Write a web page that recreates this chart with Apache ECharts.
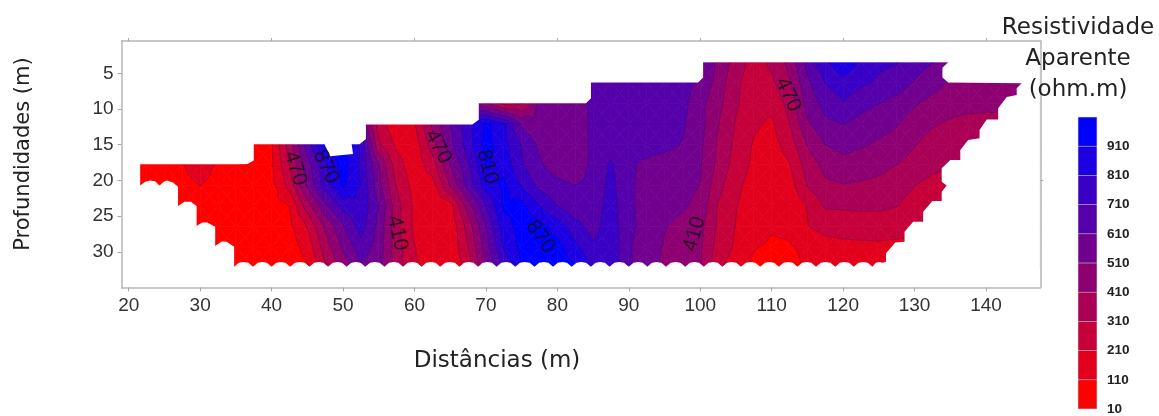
<!DOCTYPE html>
<html><head><meta charset="utf-8"><style>html,body{margin:0;background:#fff}#c{width:1159px;height:416px}</style>
<script src="https://cdn.jsdelivr.net/npm/echarts@6/dist/echarts.min.js"></script></head><body><div id="c"></div>
<script>
// ---------- data ----------
const xCols = [20,22.5,25,27.5,30,32.5,35,37.5, 40,42.5,45,47.5,50,52.5,55,57.5, 60,62.5,65,67.5,70,72.5,75,77.5, 80,82.5,85,87.5,90,92.5,95,97.5, 100,102.5,105,107.5,110,112.5,115,117.5, 120,122.5,125,127.5,130,132.5,135,137.5, 140,142.5,145,147.5];
const depths = [3.46,6.3,9.2,12.1,15,17.8,20.7,23.6,26.5,29.4,32.3];
const r03 = [640,640,640,640,640,640,640,640, 640,640,640,640,640,640,640,640, 640,640,640,640,640,640,640,640, 640,640,640,640,640,640,640,640, 620,490,370,260,330,440,640,790, 900,790,730,715,660,612,585,570, 560,560,560,560];
const r06 = [640,640,640,640,640,640,640,640, 640,640,640,640,640,640,640,640, 640,640,640,640,640,640,640,640, 640,640,640,650,650,655,655,650, 590,470,330,260,290,400,590,712, 770,730,695,670,600,550,500,480, 470,465,460,455];
const r09 = [500,500,500,500,500,500,500,500, 500,500,500,500,500,500,500,500, 500,500,500,600,420,280,300,530, 540,540,640,655,655,655,650,640, 540,440,325,240,235,345,545,650, 705,645,612,570,520,480,450,440, 430,420,415,410];
const r12 = [60,60,60,60,60,60,60,60, 100,360,660,900,900,600,260,130, 200,430,610,770,940,830,590,540, 530,530,640,645,650,655,650,625, 545,415,300,225,195,310,495,585, 612,575,545,515,460,420,395,380, 385,395,400,400];
const r15 = [60,60,60,60,60,60,60,60, 100,360,660,930,960,790,330,190, 150,360,580,760,950,850,700,590, 530,525,640,650,650,650,635,605, 530,395,285,200,170,255,415,510, 545,520,495,480,415,370,330,320, 330,340,350,350];
const r18 = [60,60,60,105,180,90,60,60, 95,310,570,790,960,790,510,250, 150,260,510,690,920,880,720,625, 560,530,640,725,625,590,570,555, 520,385,265,190,145,205,355,440, 470,465,445,410,365,335,315,300, 300,300,300,300];
const r21 = [60,60,75,70,112,70,60,60, 75,250,525,760,930,805,545,300, 170,170,420,650,860,930,800,680, 640,610,640,740,625,580,560,540, 508,345,230,175,130,165,315,390, 405,395,380,350,312,280,270,260, 260,260,260,260];
const r24 = [60,60,60,60,60,60,60,60, 65,110,360,585,750,790,610,350, 190,130,165,460,710,925,950,810, 710,640,650,760,625,580,545,525, 480,300,215,165,125,140,215,320, 322,325,325,312,270,240,230,230, 230,230,230,230];
const r27 = [60,60,60,60,60,60,60,60, 60,85,215,425,595,755,580,340, 190,135,130,350,610,870,950,950, 870,750,670,770,630,580,515,480, 440,290,205,155,120,130,205,245, 260,265,265,255,240,230,230,230, 230,230,230,230];
const r29 = [60,60,60,60,60,60,60,60, 60,60,145,360,525,670,560,355, 215,135,130,305,560,815,940,950, 950,840,730,780,620,565,500,465, 425,270,195,115,95,100,130,165, 175,180,185,180,175,175,175,175, 175,175,175,175];
const r32 = [60,60,60,60,60,60,60,60, 60,60,95,290,450,590,540,360, 225,130,125,250,510,725,920,950, 950,930,800,780,625,550,490,450, 415,230,160,85,70,75,125,150, 155,155,160,160,160,160,160,160, 160,160,160,160];
const grid = [r03,r06,r09,r12,r15,r18,r21,r24,r27,r29,r32];
const levels = [10,110,210,310,410,510,610,710,810,910,1010];
const bandColors = ['#ff0000','#e3001c','#c60039','#aa0055','#8e0071','#71008e','#5500aa','#3900c6','#1c00e3','#0000ff'];
const legendTicks = ['10','110','210','310','410','510','610','710','810','910',''];
const legendBands = [100,100,100,100,100,100,100,100,100,100];
// survey outline (distance, depth)
const topEdge = [[21.6,17.75],[35.2,17.75],[36.6,17.7],[37.5,17.2],[37.5,14.95],[47.4,14.95],[48.2,16.6],[51.4,16.3],[51.2,14.95],[52.3,14.95],[53.2,14.2],[53.2,12.15],[68.1,12.15],[69,11.5],[69,9.2],[84,9.2],[84.7,8.5],[84.7,6.3],[99.7,6.3],[100.4,5.6],[100.4,3.46],[134.7,3.46],[133.9,4.2],[133.9,5.6],[134.7,6.3],[145,6.4],[144.3,7.1],[144.3,8.04],[142.9,8.3],[141.7,9.9],[141.7,11.45],[140.1,11.45],[139.1,12.95],[139.1,14.1],[137.5,14.35],[136.4,15.75],[136.4,17.15],[135,17.15],[133.8,18.3],[133.8,20.2],[134.5,20.7],[133.8,21.6],[133.8,22.9],[132.5,22.9],[131.2,24.4],[131.2,25.8],[129.8,25.8],[128.6,27.2],[128.6,28.6],[127.3,28.7],[126,30.2],[126,31.4]];
const bottomTips = [124.1,121.5,118.9,116.2,113.6,111,108.4,105.7,103.1,100.5,97.9,95.2,92.6,90,87.3,84.7,82,79.4,76.8,74.1,71.5,68.9,66.3,63.6,61,58.4,55.8,53.1,50.5,47.9,45.3,42.6,40,37.4,34.75];
const leftEdge = [[34.75,29.3],[33.7,28.6],[33,28.55],[32.1,29.2],[32.1,26.5],[31,25.9],[30.3,25.9],[29.5,26.4],[29.5,23.6],[28.7,23],[27.8,23],[26.9,23.6],[26.9,20.9],[26.2,20.3],[25.3,20.0],[24.9,20.2],[24.3,20.7],[23.7,20.1],[23,20],[22.3,20.2],[21.6,20.7]];
const xTicks = [20,30,40,50,60,70,80,90,100,110,120,130,140];
const yTicks = [5,10,15,20,25,30];
const topTicks = [20,40,60,80,100,120,140];
const rightTicks = [20];
const contourLabels = [
 {x:43.3,y:18.3,t:'470',r:-72},{x:47.6,y:18.1,t:'870',r:-65},{x:57.6,y:27.4,t:'410',r:-78},{x:63.3,y:15.3,t:'470',r:-62},
 {x:70.2,y:18.1,t:'810',r:-75},{x:77.6,y:27.9,t:'870',r:-55},{x:99.2,y:27.5,t:'410',r:75},{x:112.3,y:8,t:'470',r:-65}];

// ---------- band fragments from the grid ----------
function clip(poly, lv, above){
  const out=[];
  for(let i=0;i<poly.length;i++){
    const a=poly[i], b=poly[(i+1)%poly.length];
    const ia=above? a[2]>=lv : a[2]<lv, ib=above? b[2]>=lv : b[2]<lv;
    if(ia) out.push(a);
    if(ia!==ib){const t=(lv-a[2])/(b[2]-a[2]); out.push([a[0]+t*(b[0]-a[0]),a[1]+t*(b[1]-a[1]),lv]);}
  }
  return out;
}
const fragments = bandColors.map(()=>[]); const segs=[];
function addTri(t){
  for(let b=0;b<bandColors.length;b++){
    let p=t; if(b>0) p=clip(p,levels[b],true);
    if(p.length>2 && b<bandColors.length-1) p=clip(p,levels[b+1],false);
    if(p.length>2) fragments[b].push(p);
  }
  for(let l=1;l<levels.length-1;l++){
    const lv=levels[l], pts=[];
    for(let i=0;i<3;i++){const a=t[i],b=t[(i+1)%3];
      if((a[2]<lv)!==(b[2]<lv)){const k=(lv-a[2])/(b[2]-a[2]);pts.push([a[0]+k*(b[0]-a[0]),a[1]+k*(b[1]-a[1])]);}}
    if(pts.length===2) segs.push(pts);
  }
}
for(let r=0;r<depths.length-1;r++)for(let c=0;c<xCols.length-1;c++){
  const A=[xCols[c],depths[r],grid[r][c]],B=[xCols[c+1],depths[r],grid[r][c+1]],C=[xCols[c+1],depths[r+1],grid[r+1][c+1]],D=[xCols[c],depths[r+1],grid[r+1][c]];
  const M=[(A[0]+B[0])/2,(A[1]+D[1])/2,(A[2]+B[2]+C[2]+D[2])/4];
  addTri([A,B,M]);addTri([B,C,M]);addTri([C,D,M]);addTri([D,A,M]);
}
// outline and white mask around it
const outline=topEdge.slice();
let prev=126;
bottomTips.forEach(tip=>{const w=prev-tip;outline.push([prev-w*0.25,31.55],[prev-w*0.5,31.42],[prev-w*0.75,31.55],[tip,32.1]);prev=tip;});
leftEdge.forEach(p=>outline.push(p));
const M0=[19.3,2],M1=[19.3,33.5],M2=[147.55,33.5],M3=[147.55,2];
const maskPts=[M0,M1,M2,M3,M0].concat(outline,[outline[0],M0]);

const font='"Liberation Sans",Arial,sans-serif', tfont='"DejaVu Sans",sans-serif';
const chart=echarts.init(document.getElementById('c'),null,{renderer:'canvas'});
const frame={show:true,onZero:false,lineStyle:{color:'#b6b6b6',width:1.5}};
const tick=(vals,len)=>({show:true,length:len,lineStyle:{color:'#a8a8a8',width:1},customValues:vals});
const txt=(t,x,y,size,rot)=>({type:'text',z:20,x:x,y:y,rotation:rot||0,style:{x:0,y:0,text:t,textAlign:'center',textVerticalAlign:'middle',font:size+'px '+tfont,fill:'#222'}});
chart.setOption({
 animation:false,backgroundColor:'#fff',
 grid:[{left:121.6,top:41,width:918.7,height:246.5},{left:1078,top:117,width:19,height:296}],
 xAxis:[
  {gridIndex:0,type:'value',min:19,max:147.6,z:10,position:'bottom',splitLine:{show:false},axisLine:frame,axisTick:tick(xTicks,4),
   axisLabel:{customValues:xTicks,fontFamily:font,fontSize:19,color:'#333',margin:9}},
  {gridIndex:0,type:'value',min:19,max:147.6,z:10,position:'top',splitLine:{show:false},axisLine:frame,axisTick:tick(topTicks,3),axisLabel:{show:false}},
  {gridIndex:1,type:'category',data:['r'],axisLine:{show:false},axisTick:{show:false},axisLabel:{show:false}}],
 yAxis:[
  {gridIndex:0,type:'value',inverse:true,min:0.47,max:35,z:10,position:'left',splitLine:{show:false},axisLine:frame,axisTick:tick(yTicks,4),
   axisLabel:{customValues:yTicks,fontFamily:font,fontSize:19,color:'#333',margin:8}},
  {gridIndex:0,type:'value',inverse:true,min:0.47,max:35,z:10,position:'right',splitLine:{show:false},axisLine:frame,axisTick:tick(rightTicks,3),axisLabel:{show:false}},
  {gridIndex:1,type:'value',min:0,max:1000,interval:100,position:'right',splitLine:{show:false},axisLine:{show:false},axisTick:{show:false},
   axisLabel:{fontFamily:font,fontSize:13.5,fontWeight:'bold',color:'#222',margin:10,showMaxLabel:false,formatter:v=>legendTicks[Math.round(v/100)]}}],
 graphic:[
  txt('Resistividade',1078,28,23),txt('Aparente',1078,59,23),txt('(ohm.m)',1078,90,23),
  txt('Distâncias (m)',497,361,23),txt('Profundidades (m)',24,154,21,Math.PI/2)],
 series:[
  {type:'custom',xAxisIndex:0,yAxisIndex:0,z:2,silent:true,clip:false,data:bandColors.map((c,i)=>[i]),
   encode:{x:[],y:[]},
   renderItem:(p,api)=>{const b=api.value(0);return {type:'group',children:fragments[b].map(f=>({type:'polygon',shape:{points:f.map(v=>api.coord([v[0],v[1]]))},style:{fill:bandColors[b],stroke:bandColors[b],lineWidth:0.7}}))};}},
  {type:'custom',xAxisIndex:0,yAxisIndex:0,z:3,silent:true,clip:false,data:[[0]],encode:{x:[],y:[]},
   renderItem:(p,api)=>({type:'group',children:segs.map(s=>({type:'line',shape:{x1:api.coord(s[0])[0],y1:api.coord(s[0])[1],x2:api.coord(s[1])[0],y2:api.coord(s[1])[1]},style:{stroke:'rgba(30,0,40,0.35)',lineWidth:0.7}}))})},
  {type:'custom',xAxisIndex:0,yAxisIndex:0,z:4,silent:true,clip:false,data:[[0]],encode:{x:[],y:[]},
   renderItem:(p,api)=>({type:'polygon',shape:{points:maskPts.map(v=>api.coord(v))},style:{fill:'#fff'}})},
  {type:'scatter',xAxisIndex:0,yAxisIndex:0,z:5,silent:true,symbolSize:0,
   data:contourLabels.map(l=>({value:[l.x,l.y],label:{show:true,position:'inside',rotate:l.r,formatter:l.t,fontFamily:font,fontSize:21,color:'#111'}}))},
  ...legendBands.map((v,i)=>({type:'bar',xAxisIndex:2,yAxisIndex:2,stack:'k',barWidth:'100%',silent:true,data:[v],itemStyle:{color:bandColors[i],borderColor:'rgba(40,0,40,0.25)',borderWidth:0.6}}))
 ]
});
</script></body></html>
